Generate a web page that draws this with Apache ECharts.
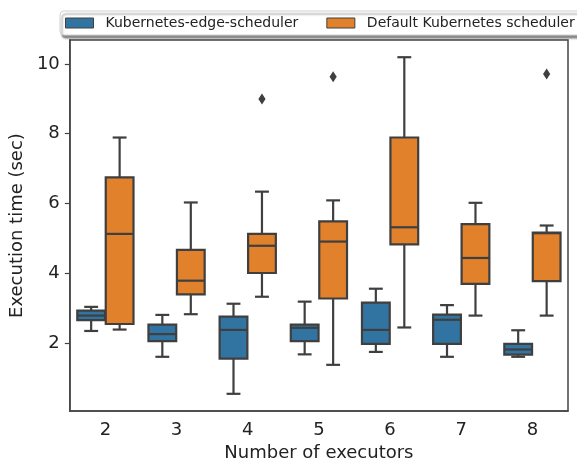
<!DOCTYPE html>
<html>
<head>
<meta charset="utf-8">
<script src="https://cdn.jsdelivr.net/npm/echarts@6/dist/echarts.min.js"></script>
<style>html,body{margin:0;padding:0;background:#fff}#c{width:577px;height:467px}</style>
</head>
<body>
<div id="c"></div>
<script>
// Categories (number of executors)
const categories = ['2', '3', '4', '5', '6', '7', '8'];
// Box stats per category: [whiskerLow, q1, median, q3, whiskerHigh]
const edgeStats = [
  [2.35, 2.66, 2.79, 2.93, 3.04],
  [1.61, 2.06, 2.26, 2.53, 2.81],
  [0.55, 1.56, 2.38, 2.76, 3.13],
  [1.68, 2.06, 2.44, 2.53, 3.19],
  [1.75, 1.98, 2.38, 3.16, 3.56],
  [1.61, 1.98, 2.67, 2.82, 3.09],
  [1.61, 1.67, 1.82, 1.98, 2.37]
];
const defaultStats = [
  [2.39, 2.55, 5.13, 6.75, 7.89],
  [2.83, 3.40, 3.79, 4.67, 6.03],
  [3.33, 4.01, 4.79, 5.13, 6.34],
  [1.38, 3.28, 4.91, 5.49, 6.09],
  [2.45, 4.83, 5.32, 7.89, 10.19],
  [2.79, 3.70, 4.44, 5.41, 6.02],
  [2.79, 3.78, 5.15, 5.17, 5.37]
];
// Outliers: [categoryIndex, value]
const defaultOutliers = [[2, 8.99], [3, 9.63], [6, 9.71]];
const edgeOutliers = [];
// Y ticks
const yTicks = [2, 4, 6, 8, 10];

const seriesNames = ['Kubernetes-edge-scheduler', 'Default Kubernetes scheduler'];
const colors = ['#3274a1', '#e1812c'];
const edge = '#3f3f3f';
const FONT = 'DejaVu Sans';

function toData(stats) {
  return stats.map((s, i) => [i].concat(s));
}

function makeRender(sign, color) {
  return function (params, api) {
    const c = api.value(0);
    const band = api.size([1, 0])[0];
    const off = sign * band * 0.2;
    const w = band * 0.39;
    const cap = w * 0.5;
    const pLo = api.coord([c, api.value(1)]);
    const pQ1 = api.coord([c, api.value(2)]);
    const pMed = api.coord([c, api.value(3)]);
    const pQ3 = api.coord([c, api.value(4)]);
    const pHi = api.coord([c, api.value(5)]);
    const x = pLo[0] + off;
    const ls = { stroke: edge, lineWidth: 2.2 };
    return {
      type: 'group',
      children: [
        { type: 'line', shape: { x1: x, y1: pLo[1], x2: x, y2: pQ1[1] }, style: ls },
        { type: 'line', shape: { x1: x, y1: pQ3[1], x2: x, y2: pHi[1] }, style: ls },
        { type: 'line', shape: { x1: x - cap / 2, y1: pLo[1], x2: x + cap / 2, y2: pLo[1] }, style: ls },
        { type: 'line', shape: { x1: x - cap / 2, y1: pHi[1], x2: x + cap / 2, y2: pHi[1] }, style: ls },
        { type: 'rect', shape: { x: x - w / 2, y: pQ3[1], width: w, height: pQ1[1] - pQ3[1] },
          style: { fill: color, stroke: edge, lineWidth: 2.2 } },
        { type: 'line', shape: { x1: x - w / 2, y1: pMed[1], x2: x + w / 2, y2: pMed[1] }, style: ls }
      ]
    };
  };
}

function outlierRender(sign) {
  return function (params, api) {
    const c = api.value(0);
    const band = api.size([1, 0])[0];
    const p = api.coord([c, api.value(1)]);
    const x = p[0] + sign * band * 0.2;
    const y = p[1];
    return {
      type: 'polygon',
      shape: { points: [[x, y - 5.5], [x + 3.6, y], [x, y + 5.5], [x - 3.6, y]] },
      style: { fill: edge }
    };
  };
}

const chart = echarts.init(document.getElementById('c'), null, { renderer: 'canvas' });
chart.setOption({
  animation: false,
  backgroundColor: '#fff',
  textStyle: { fontFamily: FONT },
  legend: {
    left: 60,
    top: 11,
    width: 540,
    padding: [5, 8, 5, 5],
    itemGap: 28,
    itemWidth: 28,
    itemHeight: 10,
    backgroundColor: '#fff',
    borderColor: '#d0d0d0',
    borderWidth: 1,
    borderRadius: 4,
    shadowColor: 'rgba(0,0,0,0.45)',
    shadowOffsetX: 2,
    shadowOffsetY: 3,
    shadowBlur: 2,
    textStyle: { fontFamily: FONT, fontSize: 14, color: '#222', padding: [0, 0, 0, 7] },
    data: [
      { name: seriesNames[0], icon: 'rect', itemStyle: { color: colors[0], borderColor: edge, borderWidth: 1 } },
      { name: seriesNames[1], icon: 'rect', itemStyle: { color: colors[1], borderColor: edge, borderWidth: 1 } }
    ]
  },
  grid: {
    left: 68, right: 9, top: 40, bottom: 54,
    show: true, borderColor: '#444', borderWidth: 1.5, backgroundColor: '#fff'
  },
  xAxis: {
    type: 'category',
    data: categories,
    name: 'Number of executors',
    nameLocation: 'middle',
    nameGap: 31,
    nameTextStyle: { fontFamily: FONT, fontSize: 18, color: '#222' },
    axisLine: { lineStyle: { color: '#444', width: 1.5 } },
    axisTick: { alignWithLabel: true, length: 5, lineStyle: { color: '#444', width: 1.2 } },
    axisLabel: { fontFamily: FONT, fontSize: 18, color: '#222', margin: 10 },
    splitLine: { show: false }
  },
  yAxis: {
    type: 'value',
    min: 0.055,
    max: 10.683,
    name: 'Execution time (sec)',
    nameLocation: 'middle',
    nameGap: 42,
    nameTextStyle: { fontFamily: FONT, fontSize: 18, color: '#222' },
    axisLine: { show: true, lineStyle: { color: '#444', width: 1.5 } },
    axisTick: { show: true, length: 5, customValues: yTicks, lineStyle: { color: '#444', width: 1.2 } },
    axisLabel: { fontFamily: FONT, fontSize: 18, color: '#222', margin: 10, customValues: yTicks },
    splitLine: { show: false }
  },
  series: [
    { name: seriesNames[0], type: 'custom', itemStyle: { color: colors[0] },
      renderItem: makeRender(-1, colors[0]), encode: { x: 0, y: [1, 2, 3, 4, 5] }, data: toData(edgeStats) },
    { name: seriesNames[1], type: 'custom', itemStyle: { color: colors[1] },
      renderItem: makeRender(1, colors[1]), encode: { x: 0, y: [1, 2, 3, 4, 5] }, data: toData(defaultStats) },
    { name: seriesNames[1] + ' outliers', type: 'custom', renderItem: outlierRender(1),
      encode: { x: 0, y: 1 }, data: defaultOutliers },
    { name: seriesNames[0] + ' outliers', type: 'custom', renderItem: outlierRender(-1),
      encode: { x: 0, y: 1 }, data: edgeOutliers }
  ]
});
</script>
</body>
</html>
